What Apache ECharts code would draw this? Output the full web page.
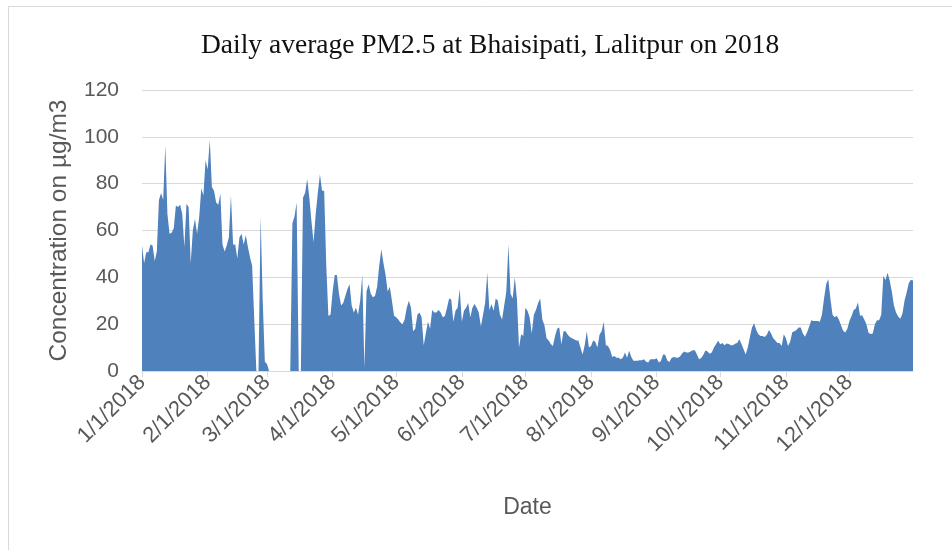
<!DOCTYPE html>
<html>
<head>
<meta charset="utf-8">
<script src="https://cdn.jsdelivr.net/npm/echarts@6/dist/echarts.min.js"></script>
<style>
  html, body { margin: 0; padding: 0; background: #fff; }
  #mychart { width: 952px; height: 550px; }
</style>
</head>
<body>
<div id="mychart"></div>
<script>
// daily average PM2.5, 1 Jan 2018 .. 31 Dec 2018 (0 = no reading)
const pm25 = [
  53.6, 46, 50.7, 50.7, 54, 53.6, 47, 51, 73, 76,
  73, 96.4, 67, 58.6, 59, 61, 70.7, 70, 71, 67,
  53, 71.4, 70, 46, 60, 65, 58.6, 65.7, 78, 75,
  90, 86, 98.6, 78.6, 77, 72, 71, 75.7, 54, 51,
  53.6, 57, 75, 54, 54, 48, 57, 58.6, 54, 58,
  53, 48.6, 45, 22, 0, 0, 66, 30, 4, 3,
  0, 0, 0, 0, 0, 0, 0, 0, 0, 0,
  0, 63, 66, 72, 0, 0, 74, 76, 82, 74,
  64, 55, 67, 76, 84, 77, 77, 45, 23.6, 24,
  34, 41, 41, 33, 28, 29, 32, 35, 37, 28,
  25, 27, 24, 30, 41, 1.4, 34, 37, 33, 31.5,
  32, 36, 45, 52, 46, 41, 34, 36, 30, 23.6,
  23, 22, 20.7, 20, 22, 27, 30, 27, 17, 18,
  24, 25, 23, 11, 16, 21, 18, 26, 25, 25,
  26, 25, 23, 23.5, 27, 31, 30.5, 21, 25.7, 27,
  35, 21, 25.7, 27, 29, 23, 27, 28.6, 27, 25,
  19, 24, 29, 42, 26, 28.6, 25.7, 31, 30, 24,
  22, 28, 34, 54, 33, 31, 40, 31, 10, 15.7,
  15, 27, 25.7, 23, 16, 24, 26, 29, 31, 22,
  19.5, 14, 13, 11.5, 10.7, 15, 18, 18.6, 11.4, 17,
  17, 15.5, 14.5, 14, 13.6, 13, 13, 10, 7, 11,
  17, 10, 10.7, 13, 12.5, 10, 15.5, 17, 21, 11,
  10.7, 9, 6, 6.4, 5.7, 5.7, 5, 5.7, 7.9, 5.7,
  8.6, 6, 4.4, 4.4, 4.4, 4.6, 4.6, 5, 4, 3.6,
  5, 5, 5, 5.4, 3.6, 4.3, 7, 6.9, 4.5, 3.8,
  5.5, 6, 5.8, 5.7, 6.2, 7.5, 8.3, 7.9, 7.9, 8.3,
  8.9, 8.9, 7, 5, 5.5, 6.8, 8.8, 8.3, 7.4, 7.9,
  10, 11.4, 12.9, 11.4, 12, 11, 11.7, 11.5, 11, 11,
  11.6, 12, 13.6, 11.5, 9.3, 7, 10, 14.5, 18.6, 20.4,
  17.5, 15.7, 15, 15, 14.5, 15.5, 17.5, 16, 14, 13,
  12, 12, 10.7, 15.7, 14, 10.7, 12.5, 16.5, 17, 17.5,
  18.6, 18.6, 16, 14.6, 16.5, 19, 21.7, 21.4, 21.4, 21.4,
  21, 24, 31, 37, 39.3, 31, 24, 23, 23.6, 22,
  19.5, 17.2, 16.4, 18, 21.4, 23.5, 26, 26.7, 29.3, 23.6,
  23.8, 22, 20, 16.3, 15.8, 16, 20, 21.7, 21.7, 24,
  40.7, 38.9, 42, 38.6, 34, 28, 25, 23.3, 22.3, 24.5,
  30, 33.5, 37.5, 39, 38.6
];

const monthDays = [31, 28, 31, 30, 31, 30, 31, 31, 30, 31, 30, 31];

// categories: m/d/2018 for every day of the year
const dates = [];
monthDays.forEach(function (n, m) {
  for (let d = 1; d <= n; d++) dates.push((m + 1) + '/' + d + '/2018');
});

const yTicks = { min: 0, max: 120, step: 20 };

function isMonthStart(idx) {
  return dates[idx].split('/')[1] === '1';
}

const grey = '#595959';
const sans = '"Liberation Sans", Arial, sans-serif';

let option = {
  animation: false,
  backgroundColor: '#fff',
  title: {
    text: 'Daily average PM2.5 at Bhaisipati, Lalitpur on 2018',
    left: 196,
    top: 27,
    textStyle: {
      fontFamily: '"Liberation Serif", serif',
      fontSize: 27.5,
      fontWeight: 'normal',
      color: '#111'
    }
  },
  grid: {
    left: 142,
    right: 39,
    top: 90,
    bottom: 179
  },
  xAxis: {
    type: 'category',
    data: dates,
    boundaryGap: false,
    name: 'Date',
    nameLocation: 'middle',
    nameGap: 125,
    nameTextStyle: { fontFamily: sans, fontSize: 23, color: grey },
    axisLine: { lineStyle: { color: '#d9d9d9', width: 1 } },
    axisTick: {
      interval: function (idx) { return isMonthStart(idx); },
      length: 6,
      lineStyle: { color: '#d9d9d9' }
    },
    axisLabel: {
      interval: function (idx) { return isMonthStart(idx); },
      rotate: 45,
      margin: 8,
      fontFamily: sans,
      fontSize: 22,
      color: grey
    },
    splitLine: { show: false }
  },
  yAxis: {
    type: 'value',
    min: yTicks.min,
    max: yTicks.max,
    interval: yTicks.step,
    name: 'Concentration on µg/m3',
    nameLocation: 'middle',
    nameGap: 70,
    nameTextStyle: { fontFamily: sans, fontSize: 24.5, color: grey },
    axisLine: { show: false },
    axisTick: { show: false },
    axisLabel: {
      margin: 23,
      fontFamily: sans,
      fontSize: 21,
      color: grey
    },
    splitLine: { lineStyle: { color: '#d9d9d9', width: 1 } }
  },
  series: [{
    name: 'PM2.5',
    type: 'line',
    data: pm25,
    symbol: 'none',
    smooth: false,
    lineStyle: { width: 0 },
    areaStyle: { color: '#4f81bd', opacity: 1 },
    z: 3
  }],
  graphic: [{
    type: 'rect',
    shape: { x: 8.5, y: 6.5, width: 1000, height: 700 },
    style: { fill: 'none', stroke: '#d9d9d9', lineWidth: 1 },
    silent: true
  }]
};

let myChart = echarts.init(document.getElementById('mychart'), null, { renderer: 'canvas' });
myChart.setOption(option);
</script>
</body>
</html>
